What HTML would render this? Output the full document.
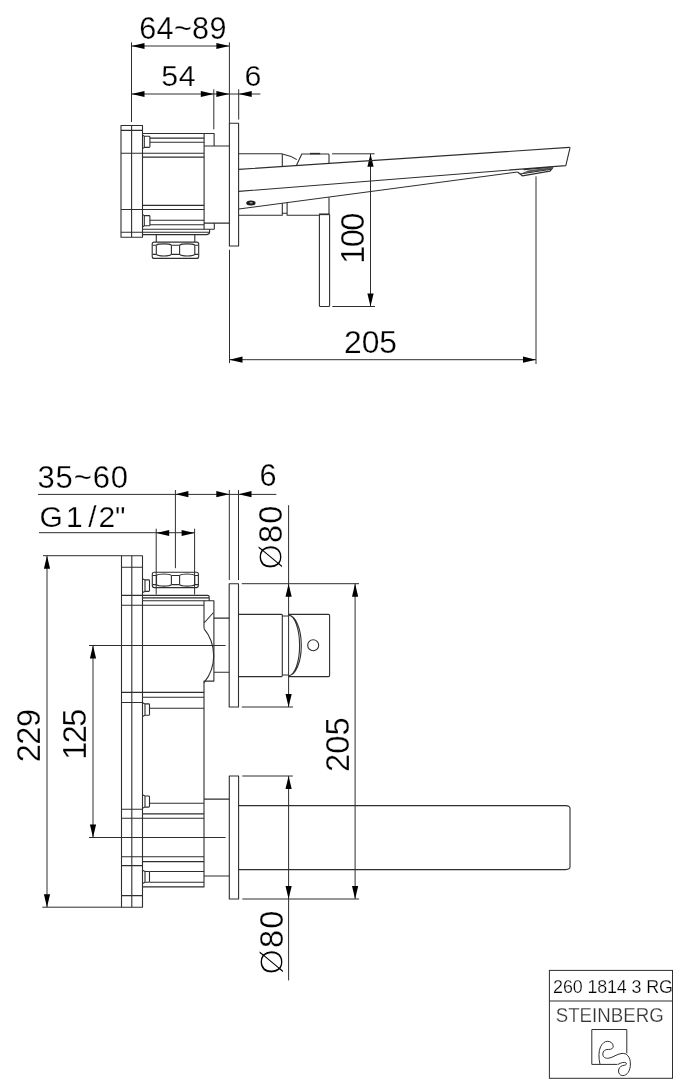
<!DOCTYPE html>
<html lang="en">
<head>
<meta charset="utf-8">
<title>Steinberg 260 1814 3 RG</title>
<style>
html,body{margin:0;padding:0;background:#fff;}
body{width:681px;height:1080px;overflow:hidden;position:relative;}
svg{position:absolute;left:0;top:0;display:block;will-change:transform;}
.o{fill:none;stroke:#2e2e2e;stroke-width:1.1;stroke-linecap:butt;stroke-linejoin:round;}
.d{fill:none;stroke:#2e2e2e;stroke-width:1;}
.a{fill:#000;stroke:none;}
text{font-family:"Liberation Sans",sans-serif;fill:#000;stroke:#fff;stroke-width:0.25px;}
.dia{stroke-width:1.1px;}
.t{font-size:30px;}
.tv{font-size:32.5px;}
</style>
</head>
<body>
<svg width="681" height="1080" viewBox="0 0 681 1080">

<!-- ================= TOP DRAWING (side view) ================= -->
<g id="top-dims" class="d">
<path d="M131.5,42.3 V122 M229.4,42.3 V123.2 M213.8,89.3 V129.4 M238.7,89.3 V119.6"/>
<path d="M131.5,46 H229.4 M131.5,94 H260.4"/>
<path d="M332,153.8 H374.6 M332.3,306.5 H375 M370.5,153.8 V306.5"/>
<path d="M229.5,249.8 V363.1 M536,176.4 V364 M229.5,359.7 H536"/>
</g>
<g id="top-arrows" class="a">
<path d="M0,0 L-13,-3.1 L-13,3.1 Z" transform="translate(131.5,46) rotate(180)"/>
<path d="M0,0 L-13,-3.1 L-13,3.1 Z" transform="translate(229.4,46)"/>
<path d="M0,0 L-13,-3.1 L-13,3.1 Z" transform="translate(131.5,94) rotate(180)"/>
<path d="M0,0 L-13,-3.1 L-13,3.1 Z" transform="translate(213.8,94)"/>
<path d="M0,0 L-13,-3.1 L-13,3.1 Z" transform="translate(229.4,94)"/>
<path d="M0,0 L-13,-3.1 L-13,3.1 Z" transform="translate(238.7,94) rotate(180)"/>
<path d="M0,0 L-13,-3.1 L-13,3.1 Z" transform="translate(370.5,153.8) rotate(-90)"/>
<path d="M0,0 L-13,-3.1 L-13,3.1 Z" transform="translate(370.5,306.5) rotate(90)"/>
<path d="M0,0 L-13,-3.1 L-13,3.1 Z" transform="translate(229.5,359.7) rotate(180)"/>
<path d="M0,0 L-13,-3.1 L-13,3.1 Z" transform="translate(536,359.7)"/>
</g>
<g id="top-text">
<!--TT0-->
<text id="t1" x="183.0" y="38.9" text-anchor="middle" style="font-size:30.6px;letter-spacing:0.3px;">64~89</text>
<text id="t2" x="178.8" y="86.1" text-anchor="middle" style="font-size:30.3px;letter-spacing:0.8px;">54</text>
<text id="t3" x="253.0" y="86.1" text-anchor="middle" style="font-size:30.3px;">6</text>
<text id="t4" transform="translate(363.5,239) rotate(-90)" text-anchor="middle" style="font-size:32.5px;letter-spacing:-1.6px;">100</text>
<text id="t5" x="370.5" y="353.1" text-anchor="middle" style="font-size:31.8px;">205</text>
<!--TT1-->
</g>

<g id="top-object" class="o">
<!-- mounting flange -->
<rect x="121" y="125.5" width="21.5" height="111.8"/>
<path d="M131.6,125.5 V237.3 M121,130.4 H142.5 M121,153.3 H142.5 M121,209.5 H142.5 M121,232.2 H142.5"/>
<!-- body -->
<path d="M142.5,133.5 H214.1 V146 M204.1,133.5 V229.2 M204.1,146 H229.4 M204.1,223.1 H229.4 M214.3,223.1 V229.2"/>
<path d="M149.9,138.1 H204.1 M149.9,142.2 H204.1 M142.5,153.3 H204.1 M142.5,157.1 H204.1 M142.5,205.4 H204.1 M142.5,209.5 H204.1 M149.9,220.3 H204.1 M149.9,224.7 H204.1 M142.5,229.2 H214.3"/>
<path d="M142.5,232.2 H209.6 V229.2 M142.5,234.6 H206.4 Q209.6,234.6 209.6,232"/>
<!-- bolt heads -->
<path d="M142.5,135.1 L144.3,136.3 H149 Q149.9,136.3 149.9,137.2 V146.5 Q149.9,147.4 149,147.4 H144.3 L142.5,148.6 M144.3,136.3 V147.4"/>
<path d="M142.5,214.4 L144.3,215.6 H149 Q149.9,215.6 149.9,216.5 V224.9 Q149.9,225.8 149,225.8 H144.3 L142.5,227.0 M144.3,215.6 V225.8"/>
<!-- nut -->
<path d="M156.3,234.6 V242.1 M194.8,234.6 V242.1"/>
<rect x="152.2" y="242.1" width="46.5" height="16.3" rx="2"/>
<path d="M156.3,245.2 V254.4 M171.4,245.2 V254.4 M179.6,245.2 V254.4 M194.8,245.2 V254.4"/>
<path d="M152.5,245.2 H156.3 M171.4,245.2 H179.6 M194.8,245.2 H198.4 M152.5,254.4 H156.3 M171.4,254.4 H179.6 M194.8,254.4 H198.4"/>
<path d="M156.3,245.2 C157.9,243.47 169.8,243.47 171.4,245.2 M156.3,254.4 C157.9,256.53 169.8,256.53 171.4,254.4 M179.6,245.2 C181.2,243.47 193.2,243.47 194.8,245.2 M179.6,254.4 C181.2,256.53 193.2,256.53 194.8,254.4"/>
<!-- wall plate -->
<rect x="229.4" y="123.2" width="9.2" height="122.8"/>
<!-- tap body upper -->
<path d="M238.7,153.7 H281.4 Q282.3,153.7 282.3,154.6 V166.4"/>
<path d="M282.3,154 Q290.5,155.6 296.8,159.6"/>
<path d="M296.4,165.5 L301.8,154 H328.2 Q329,154 329,154.8 V163.4"/>
<path d="M310,153.6 H320.2" style="stroke-width:1.5"/>
<!-- spout -->
<path d="M238.7,169.4 L569.2,147.4 Q570.1,147.4 569.9,148.4 L565.8,165.6 L238.7,191.4"/>
<path d="M238.7,209 L517.5,172"/>
<!-- aerator -->
<path d="M517.5,172 L522.4,175.8 L550,171.2 L553,167.4" style="stroke-width:1.3"/>
<path d="M520,174 L551.5,169.2 M523.5,169.6 L552.5,167.2" style="stroke-width:1.2"/>
<path d="M528,170.6 L553,166.9 L551.6,169 L521,173.5 Z" style="fill:#555;stroke:none"/>
<!-- tap body lower -->
<path d="M238.7,215.3 H282.3 V203.2 M287.1,202.6 V215.3 H319.4 M282.3,213.2 H287.1 M329,197.2 V214.2"/>
<!-- lever -->
<path d="M319.4,214.4 V305.5 Q319.4,306.5 320.4,306.5 H328.6 Q329.6,306.5 329.6,305.5 V214.4"/>
<path d="M319,214.3 H329.6" style="stroke-width:1.7"/>
</g>
<ellipse cx="250.9" cy="202.9" rx="4.7" ry="2.5" fill="#1c1c1c"/>
<ellipse cx="251.1" cy="202.8" rx="1.7" ry="0.7" fill="#aaa"/>

<!-- ================= BOTTOM DRAWING (top view) ================= -->
<g id="bot-dims" class="d">
<path d="M38,494.4 H276.3 M39,532.7 H194.6"/>
<path d="M175.4,490 V568.2 M229.3,490 V580 M238.5,490 V580 M156.2,528.7 V594.5 M194.6,528.7 V594.5"/>
<path d="M288.6,505.2 V707 M241.8,583.7 H359 M241.8,707 H293"/>
<path d="M43,555.7 H121.5 M42.3,907.2 H121.5 M47,555.7 V907.2"/>
<path d="M89,645.5 H225.5 M89,837.5 H225.5 M93,645.5 V837.5"/>
<path d="M355.1,583.7 V899 M242.3,899 H359.1"/>
<path d="M288.6,776 V980.4 M242.3,776 H292.8"/>
</g>
<g id="bot-arrows" class="a">
<path d="M0,0 L-13,-3.1 L-13,3.1 Z" transform="translate(175.4,494.2) rotate(180)"/>
<path d="M0,0 L-13,-3.1 L-13,3.1 Z" transform="translate(229.3,494.2)"/>
<path d="M0,0 L-13,-3.1 L-13,3.1 Z" transform="translate(238.5,494.2) rotate(180)"/>
<path d="M0,0 L-13,-3.1 L-13,3.1 Z" transform="translate(156.2,533) rotate(180)"/>
<path d="M0,0 L-13,-3.1 L-13,3.1 Z" transform="translate(194.6,533)"/>
<path d="M0,0 L-13,-3.1 L-13,3.1 Z" transform="translate(288.6,583.7) rotate(-90)"/>
<path d="M0,0 L-13,-3.1 L-13,3.1 Z" transform="translate(288.6,707) rotate(90)"/>
<path d="M0,0 L-13,-3.1 L-13,3.1 Z" transform="translate(47,555.7) rotate(-90)"/>
<path d="M0,0 L-13,-3.1 L-13,3.1 Z" transform="translate(47,907.2) rotate(90)"/>
<path d="M0,0 L-13,-3.1 L-13,3.1 Z" transform="translate(93,645.5) rotate(-90)"/>
<path d="M0,0 L-13,-3.1 L-13,3.1 Z" transform="translate(93,837.5) rotate(90)"/>
<path d="M0,0 L-13,-3.1 L-13,3.1 Z" transform="translate(355.1,583.7) rotate(-90)"/>
<path d="M0,0 L-13,-3.1 L-13,3.1 Z" transform="translate(355.1,899) rotate(90)"/>
<path d="M0,0 L-13,-3.1 L-13,3.1 Z" transform="translate(288.6,776) rotate(-90)"/>
<path d="M0,0 L-13,-3.1 L-13,3.1 Z" transform="translate(288.6,899) rotate(90)"/>
</g>
<g id="bot-text">
<!--BT0-->
<text id="t6" x="83.2" y="487.6" text-anchor="middle" style="font-size:31px;letter-spacing:0.9px;">35~60</text>
<text id="t7" x="267.9" y="486" text-anchor="middle" style="font-size:30.6px;">6</text>
<text id="t8" x="39.4 65.9 88.3 98.5 114.7 120.1" y="526.6" style="font-size:30px;">G1/2''</text>
<text id="t9" transform="translate(282.2,537) rotate(-90)" text-anchor="middle" style="font-size:32.5px;letter-spacing:1.2px;"><tspan class="dia">Ø</tspan>80</text>
<text id="t10" transform="translate(39.6,735.9) rotate(-90)" text-anchor="middle" style="font-size:32.5px;letter-spacing:-0.5px;">229</text>
<text id="t11" transform="translate(86.4,735) rotate(-90)" text-anchor="middle" style="font-size:32.5px;letter-spacing:-1.6px;">125</text>
<text id="t12" transform="translate(349.3,744.6) rotate(-90)" text-anchor="middle" style="font-size:32.8px;">205</text>
<text id="t13" transform="translate(283.2,942) rotate(-90)" text-anchor="middle" style="font-size:32.5px;letter-spacing:1.2px;"><tspan class="dia">Ø</tspan>80</text>
<!--BT1-->
</g>

<g id="bot-object" class="o">
<!-- flange -->
<rect x="121.5" y="555.7" width="21" height="351.6"/>
<path d="M131.8,555.7 V907.3"/>
<path d="M121.5,567.3 H142.5 M121.5,595.4 H142.5 M121.5,605.3 H142.5 M121.5,692.4 H142.5 M121.5,702.5 H142.5 M121.5,809.3 H142.5 M121.5,818.2 H142.5 M121.5,856.7 H142.5 M121.5,865.6 H142.5 M121.5,895.6 H142.5"/>
<!-- bolts -->
<path d="M142.5,578.7 L145,579.9 H148.6 Q149.5,579.9 149.5,580.8 V590.5 Q149.5,591.4 148.6,591.4 H145 L142.5,592.6 M145,579.9 V591.4"/>
<path d="M142.5,702.7 L145,703.9 H148.6 Q149.5,703.9 149.5,704.8 V714.4 Q149.5,715.3 148.6,715.3 H145 L142.5,716.5 M145,703.9 V715.3"/>
<path d="M142.5,794.8 L145,796 H148.6 Q149.5,796 149.5,796.9 V806.2 Q149.5,807.1 148.6,807.1 H145 L142.5,808.3 M145,796 V807.1"/>
<path d="M142.5,870.3 L145,871.5 H148.6 Q149.5,871.5 149.5,872.4 V881.3 Q149.5,882.2 148.6,882.2 H145 L142.5,883.4 M145,871.5 V882.2"/>
<!-- nut -->
<rect x="152.3" y="572.2" width="46.1" height="15.4" rx="2"/>
<path d="M156.5,575.5 V584.6 M171.4,575.5 V584.6 M179.6,575.5 V584.6 M194.7,575.5 V584.6"/>
<path d="M152.6,575.5 H156.5 M171.4,575.5 H179.6 M194.7,575.5 H198.1 M152.6,584.6 H156.5 M171.4,584.6 H179.6 M194.7,584.6 H198.1"/>
<path d="M156.5,575.5 C158.1,573.5 169.8,573.5 171.4,575.5 M156.5,584.6 C158.1,586.6 169.8,586.6 171.4,584.6 M179.6,575.5 C181.2,573.5 193.1,573.5 194.7,575.5 M179.6,584.6 C181.2,586.6 193.1,586.6 194.7,584.6"/>
<!-- top plate + body -->
<path d="M142.5,595.4 H207.6 Q209.2,595.4 209.2,597 V600.7 M142.5,597.9 H209.2 M142.5,600.7 H213.9 V681.1 H204 V886.9 H142.5"/>
<path d="M142.5,605.3 H204 M204,600.7 V628.6 M213.5,612.5 L204,623"/>
<path d="M204,628.6 A42.6,42.6 0 0 1 204,682.7"/>
<path d="M213.9,618.1 H229.2 M213.9,672.2 H229.2"/>
<path d="M142.5,692.4 H204 M142.5,697.2 H204 M149.5,708.3 H204 M149.5,803.2 H204 M142.5,813.9 H204 M142.5,818.3 H204 M142.5,856.7 H204 M142.5,861.6 H204 M149.5,871.5 H204 M149.5,882.2 H204"/>
<path d="M204,799.1 H229.2 M204,876 H229.2"/>
<!-- round plates (edge on) -->
<rect x="229.2" y="583.7" width="9.3" height="123.3"/>
<rect x="229.3" y="776" width="9.3" height="123"/>
<!-- handle -->
<path d="M238.5,614.4 H281.4 Q282.3,614.4 282.3,615.3 V675.7 Q282.3,676.6 281.4,676.6 H238.5"/>
<path d="M282.3,616 H288 M282.3,675 H288"/>
<path d="M288.5,614.4 H328.6 Q329.6,614.4 329.6,615.4 V675.6 Q329.6,676.6 328.6,676.6 H288.5"/>
<path d="M288.4,615.3 A12.9,30.2 0 0 1 288.4,675.7 M288.4,615.3 A11.2,30.2 0 0 1 288.4,675.7"/>
<circle cx="313.2" cy="645.3" r="5.5"/>
<!-- spout -->
<path d="M238.6,805.6 H565.5 Q570,805.7 570,808.4 V866.8 Q570,869.5 565.5,869.6 H238.6"/>
</g>


<!-- ================= TITLE BLOCK ================= -->
<g id="title" class="d">
<rect x="549.4" y="970.4" width="123.1" height="107.9" style="stroke-width:1"/>
<path d="M549.4,1001 H672.5" style="stroke-width:1"/>
<path d="M617.5,1064.4 H591.8 V1029.5 H626.8 V1053.4"/>
<path d="M600,1064.4 C598.6,1058 598.4,1051 600.6,1046.7 C602.4,1043.2 604.8,1041.3 607.4,1041.3 C610.6,1041.3 613.2,1043.4 613.2,1046.2 C613.2,1048.6 611.2,1049.6 608.6,1049.4 C605,1049.2 602.8,1051 602.8,1054 C602.8,1057.4 605.6,1058.6 608.8,1058.2 C613,1057.6 616.5,1054 622,1053.4 C627,1053 630.4,1057 630.4,1064 C630.4,1071 627,1075.6 622.8,1075.6 C619.6,1075.6 618.2,1073 618.6,1070 C619,1066.6 622,1065.6 624.6,1065.2 C626.6,1064.9 627,1063.6 626,1062.8 C624.4,1061.8 621,1062.6 618,1064.4"/>
</g>
<text x="613" y="992.6" text-anchor="middle" style="font-size:17.9px;stroke-width:0.25px;fill:#000" textLength="119.8" lengthAdjust="spacing">260 1814 3 RG</text>
<text x="609.7" y="1022.4" text-anchor="middle" style="font-size:20.2px;fill:#333" textLength="108" lengthAdjust="spacingAndGlyphs">STEINBERG</text>

</svg>
</body>
</html>
